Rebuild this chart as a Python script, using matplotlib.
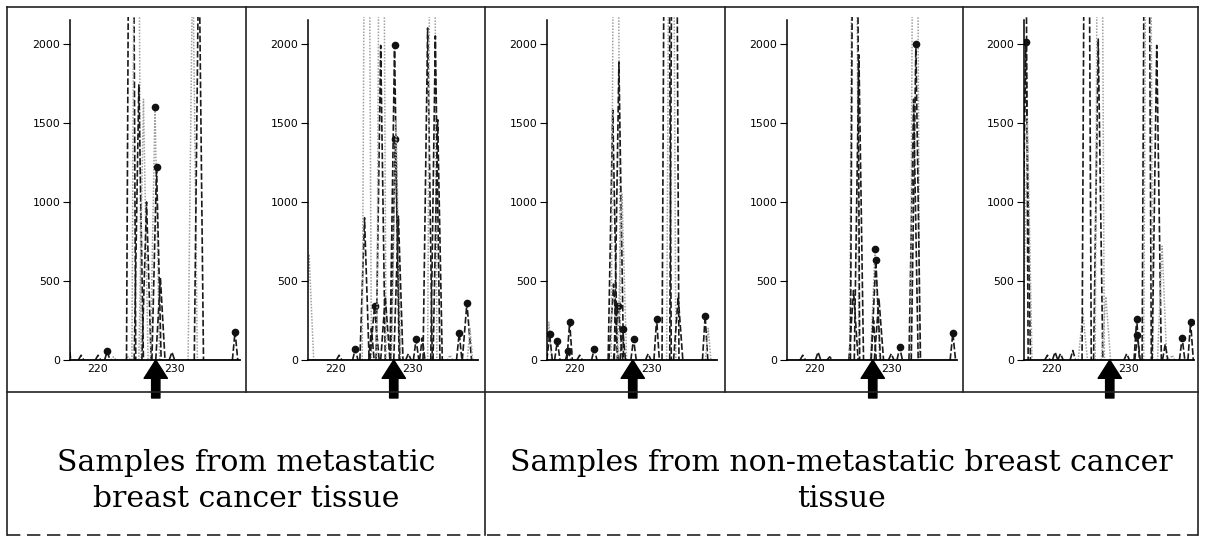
import numpy as np
import matplotlib
matplotlib.use("Agg")
import matplotlib.pyplot as plt
from matplotlib.lines import Line2D

W, H = 1205, 538

# peak lists per panel: centre (x), height, kind (k = black dashed, g = grey dotted), marker at top
p1_x = [216.1, 217.8, 220.0, 221.2, 222.0, 223.9, 224.3, 225.0, 225.3, 225.9, 226.3, 227.4, 227.6, 228.1, 229.6, 232.3, 233.1, 237.8]
p1_h = [170, 30, 30, 55, 20, 20, 6000, 6000, 1740, 1650, 1000, 1600, 1220, 520, 50, 2600, 2700, 180]
p1_k = ['k', 'k', 'k', 'k', 'g', 'g', 'k', 'g', 'k', 'g', 'k', 'g', 'k', 'k', 'k', 'g', 'k', 'k']
p1_m = [0, 0, 0, 1, 0, 0, 0, 0, 0, 0, 0, 1, 1, 0, 0, 0, 0, 1]

p2_x = [216.5, 220.4, 222.5, 223.7, 224.0, 224.6, 225.0, 225.8, 225.9, 226.4, 227.6, 227.7, 227.8, 228.1, 229.4, 230.4, 231.2, 231.9, 232.5, 232.9, 233.2, 234.8, 236.0, 237.0, 237.4]
p2_h = [670, 30, 70, 900, 6000, 200, 340, 1990, 6000, 400, 1990, 1400, 1520, 910, 40, 130, 140, 2100, 6000, 2050, 1520, 30, 170, 360, 200]
p2_k = ['g', 'k', 'k', 'k', 'g', 'k', 'k', 'k', 'g', 'k', 'k', 'k', 'g', 'k', 'k', 'k', 'k', 'k', 'g', 'k', 'k', 'g', 'k', 'k', 'g']
p2_m = [0, 0, 1, 0, 0, 0, 1, 0, 0, 0, 1, 1, 0, 0, 0, 1, 0, 0, 0, 0, 0, 0, 1, 1, 0]

p3_x = [216.6, 216.7, 217.7, 219.1, 219.3, 220.6, 222.5, 224.9, 225.0, 225.3, 225.6, 225.7, 226.1, 226.2, 227.6, 229.5, 230.6, 231.9, 232.5, 232.9, 233.4, 236.9, 237.3]
p3_h = [240, 165, 120, 60, 240, 30, 70, 1580, 480, 6000, 340, 1885, 1050, 196, 135, 40, 260, 6000, 6000, 6000, 400, 280, 200]
p3_k = ['g', 'k', 'k', 'k', 'k', 'k', 'k', 'k', 'k', 'g', 'k', 'k', 'g', 'k', 'k', 'k', 'k', 'k', 'g', 'k', 'k', 'k', 'g']
p3_m = [0, 1, 1, 1, 1, 0, 1, 0, 0, 0, 1, 0, 0, 1, 1, 0, 1, 0, 0, 0, 0, 1, 0]

p4_x = [218.4, 220.4, 221.9, 225.0, 225.1, 225.2, 225.7, 227.6, 227.8, 227.9, 228.3, 229.9, 231.0, 232.8, 233.0, 233.1, 237.9]
p4_h = [30, 50, 20, 440, 6000, 6000, 1930, 250, 700, 630, 390, 40, 80, 1650, 6000, 2000, 170]
p4_k = ['k', 'k', 'k', 'k', 'g', 'k', 'k', 'k', 'g', 'k', 'k', 'k', 'k', 'k', 'g', 'k', 'k']
p4_m = [0, 0, 0, 0, 0, 0, 0, 0, 1, 1, 0, 0, 1, 0, 0, 1, 1]

p5_x = [216.3, 216.6, 216.8, 219.4, 220.4, 221.1, 222.7, 224.0, 224.5, 226.0, 226.2, 227.0, 229.7, 231.0, 231.1, 232.3, 232.5, 233.6, 234.3, 234.7, 235.6, 236.9, 238.0]
p5_h = [6000, 2010, 1530, 30, 50, 40, 60, 300, 6000, 2030, 6000, 400, 40, 260, 160, 6000, 6000, 1990, 720, 100, 30, 140, 240]
p5_k = ['k', 'k', 'g', 'k', 'k', 'k', 'k', 'g', 'k', 'k', 'g', 'g', 'k', 'k', 'k', 'k', 'g', 'k', 'g', 'k', 'g', 'k', 'k']
p5_m = [0, 1, 0, 0, 0, 0, 0, 0, 0, 0, 0, 0, 0, 1, 1, 0, 0, 0, 0, 0, 0, 1, 1]

panels = [(p1_x, p1_h, p1_k, p1_m), (p2_x, p2_h, p2_k, p2_m), (p3_x, p3_h, p3_k, p3_m),
          (p4_x, p4_h, p4_k, p4_m), (p5_x, p5_h, p5_k, p5_m)]

axis_left_px = [70, 308, 547, 787, 1024]
arrow_x = 227.5
y_ticks = [0, 500, 1000, 1500, 2000]
x_ticks = [220, 230]
group_labels = ["Samples from metastatic\nbreast cancer tissue",
                "Samples from non-metastatic breast cancer\ntissue"]

fig = plt.figure(figsize=(W / 100, H / 100), dpi=100)


def fx(x):
    return x / W


def fy(y):
    return 1 - y / H


for (px, ph, pk, pm), left in zip(panels, axis_left_px):
    ax = fig.add_axes([fx(left), fy(360), 170 / W, 343 / H])
    ax.set_xlim(216.36, 238.44)
    ax.set_ylim(0, 2170)
    for c, h, k, m in zip(px, ph, pk, pm):
        w = 0.35 if h < 300 else 0.6
        xs = [c - w, c, c + w]
        ys = [0, h, 0]
        if k == 'k':
            ax.plot(xs, ys, color='#1a1a1a', lw=1.2, ls=(0, (4, 1.5)))
        else:
            ax.plot(xs, ys, color='#a0a0a0', lw=1.1, ls=(0, (1, 1)))
        if m:
            ax.plot(c, h, 'o', color='#111111', ms=4.5)
    for s in ['top', 'right']:
        ax.spines[s].set_visible(False)
    ax.spines['left'].set_bounds(0, 2150)
    ax.spines['left'].set_linewidth(1.1)
    ax.spines['bottom'].set_linewidth(1.3)
    ax.set_yticks(y_ticks)
    ax.set_xticks(x_ticks)
    ax.tick_params(axis='y', length=5, width=0.8, pad=2, labelsize=7.8)
    ax.tick_params(axis='x', length=0, pad=3, labelsize=7.8)
    ax.annotate('', xy=(arrow_x, 0), xytext=(0, -38), textcoords='offset pixels',
                arrowprops=dict(arrowstyle='simple,head_length=1.1,head_width=1.4,tail_width=0.5',
                                mutation_scale=12, color='black', shrinkA=0, shrinkB=0),
                annotation_clip=False)

# table borders
lc = '#222222'
fig.add_artist(Line2D([fx(7), fx(1198)], [fy(7), fy(7)], color=lc, lw=1.2))
fig.add_artist(Line2D([fx(7), fx(1198)], [fy(535), fy(535)], color=lc, lw=1.2, ls=(0, (8, 4))))
fig.add_artist(Line2D([fx(7), fx(1198)], [fy(392), fy(392)], color=lc, lw=1.2))
fig.add_artist(Line2D([fx(7), fx(7)], [fy(7), fy(535)], color=lc, lw=1.2))
fig.add_artist(Line2D([fx(1198), fx(1198)], [fy(7), fy(535)], color=lc, lw=1.2))
fig.add_artist(Line2D([fx(485), fx(485)], [fy(7), fy(535)], color=lc, lw=1.2))
for xv in [246, 725, 963]:
    fig.add_artist(Line2D([fx(xv), fx(xv)], [fy(7), fy(392)], color=lc, lw=1.2))

fig.text(fx(246), fy(481), group_labels[0], ha='center', va='center', family='DejaVu Serif',
         fontsize=21.5, linespacing=1.35)
fig.text(fx(841), fy(481), group_labels[1], ha='center', va='center', family='DejaVu Serif',
         fontsize=21.5, linespacing=1.35)

fig.savefig('out.png', dpi=100)
